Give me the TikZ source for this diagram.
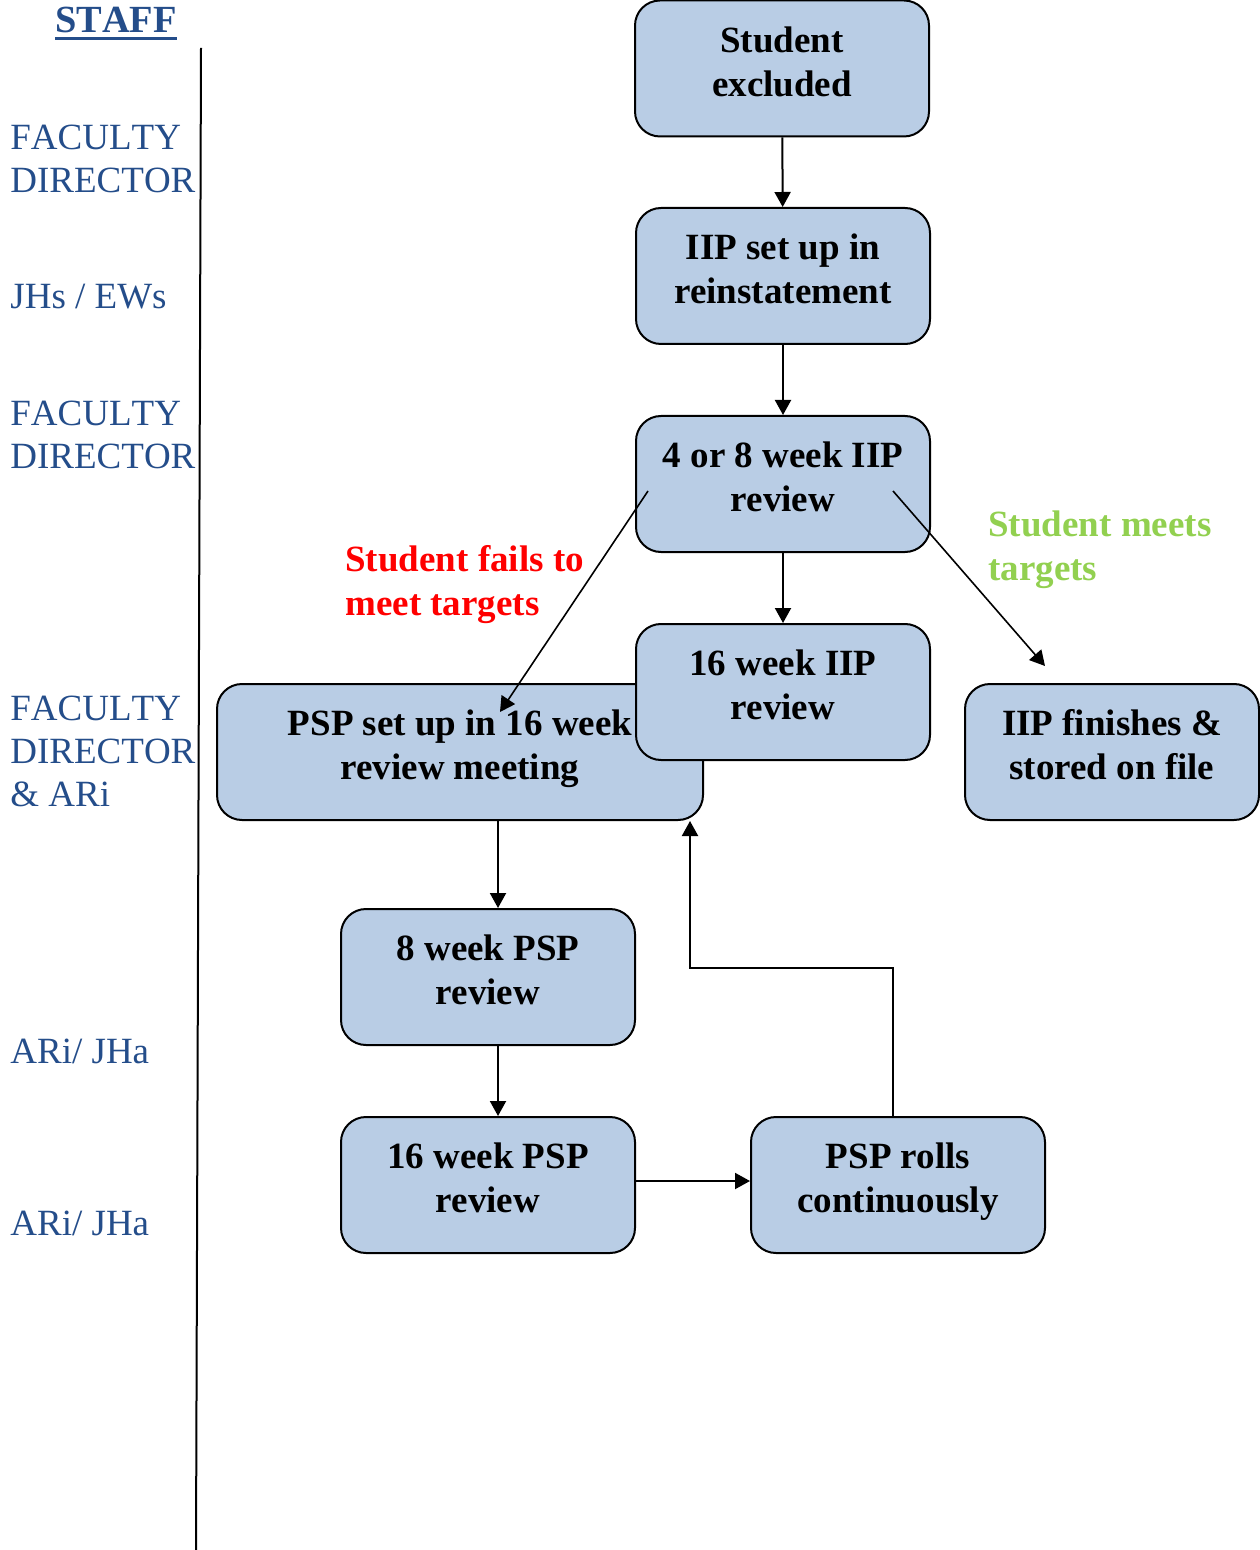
\documentclass[tikz,border=0pt]{standalone}
\usepackage{fontspec}
\setmainfont{Liberation Serif}
\newfontfamily\stafffont{Liberation Serif}[Kerning=Off]
\usetikzlibrary{arrows.meta}

\definecolor{boxfill}{RGB}{185,205,229}
\definecolor{staffcol}{RGB}{36,77,138}
\definecolor{failcol}{RGB}{255,0,0}
\definecolor{meetcol}{RGB}{146,208,80}

% thick underline for the column head
\newcommand{\thickul}[1]{\setbox0\hbox{#1}\rlap{\rule[-3.7pt]{\wd0}{1.7pt}}\box0}

\tikzset{
  stepbox/.style={draw=black,fill=boxfill,line width=1pt,rounded corners=12.5pt,
    minimum width=147pt,minimum height=68pt,inner sep=0pt,
    label={[boxtext]center:{\strut#1\strut}}},
  boxtext/.style={yshift=1.5pt,align=center,inner sep=0pt,
    font=\fontsize{18.5}{22}\selectfont\bfseries},
  staff/.style={anchor=west,align=left,inner sep=0pt,text=staffcol,
    font=\stafffont\fontsize{18.5}{21.5}\selectfont},
  note/.style={anchor=west,align=left,inner sep=0pt,
    font=\fontsize{18.5}{22}\selectfont\bfseries},
}

\begin{document}
\begin{tikzpicture}[x=0.5pt,y=-0.5pt,>={Triangle[length=7.5pt,width=8pt]},line join=miter]
\useasboundingbox (0,0) rectangle (1259,1550);

% Staff column
\node[staff,anchor=base,font=\stafffont\fontsize{19.2}{22}\selectfont\bfseries] (staffhead) at (116,33) {\thickul{STAFF}};
\draw[line width=1pt] (201,48) -- (196,1550);
\node[staff] (fd1) at (10,158.5) {FACULTY\\DIRECTOR};
\node[staff] (jh) at (10,297) {JHs / EWs};
\node[staff] (fd2) at (10,434.5) {FACULTY\\DIRECTOR};
\node[staff] (fd3) at (10,751) {FACULTY\\DIRECTOR\\\& ARi};
\node[staff] (ari1) at (10,1051) {ARi/ JHa};
\node[staff] (ari2) at (10,1223) {ARi/ JHa};

% Node: excluded
\node[stepbox={Student\\excluded}] (excl) at (782,68.5) {};
% Node: IIP set up
\node[stepbox={IIP set up in\\reinstatement}] (setup) at (783,276) {};
% Node: 4 or 8 week review
\node[stepbox={4 or 8 week IIP\\review}] (rev48) at (783,484) {};
% Node: PSP set up (under the 16 week box)
\node[stepbox={PSP set up in 16 week\\review meeting},minimum width=243pt] (psp) at (460,752) {};
% Node: 16 week IIP review
\node[stepbox={16 week IIP\\review}] (rev16) at (783,692) {};
% Node: IIP finishes
\node[stepbox={IIP finishes \&\\stored on file}] (fin) at (1112,752) {};
% Node: 8 week PSP
\node[stepbox={8 week PSP\\review}] (psp8) at (488,977) {};
% Node: 16 week PSP
\node[stepbox={16 week PSP\\review}] (psp16) at (488,1185) {};
% Node: rolls
\node[stepbox={PSP rolls\\continuously}] (rolls) at (898,1185) {};

% Outcome texts
\node[note,text=failcol] (fails) at (345,584.5) {Student fails to\\meet targets};
\node[note,text=meetcol] (meets) at (988,549.5) {Student meets\\targets};

% Edge: excl -> setup -> rev48 -> rev16
\draw[->,line width=1pt] (excl) -- (setup);
\draw[->,line width=1pt] (setup) -- (rev48);
\draw[->,line width=1pt] (rev48) -- (rev16);

% Edge: rev48 -> psp (fails), rev48 -> fin (meets)
\coordinate (failstart) at (648,491);
\coordinate (failend) at (500,712);
\coordinate (meetstart) at (893,491);
\coordinate (meetend) at (1045,666);
\draw[->,line width=0.8pt] (failstart) -- (failend);
\draw[->,line width=0.8pt] (meetstart) -- (meetend);

% Edge: psp -> psp8 -> psp16 -> rolls
\draw[->,line width=1pt] ([xshift=19pt]psp.south) -- ([xshift=5pt]psp8.north);
\draw[->,line width=1pt] ([xshift=5pt]psp8.south) -- ([xshift=5pt]psp16.north);
\draw[->,line width=1pt] ([yshift=2pt]psp16.east) -- ([yshift=2pt]rolls.west);

% Edge: rolls -> psp
\coordinate (bend) at (690,968);
\draw[->,line width=1pt] ([xshift=-2.5pt]rolls.north) |- (bend) -- (bend |- psp.south);
\end{tikzpicture}
\end{document}
